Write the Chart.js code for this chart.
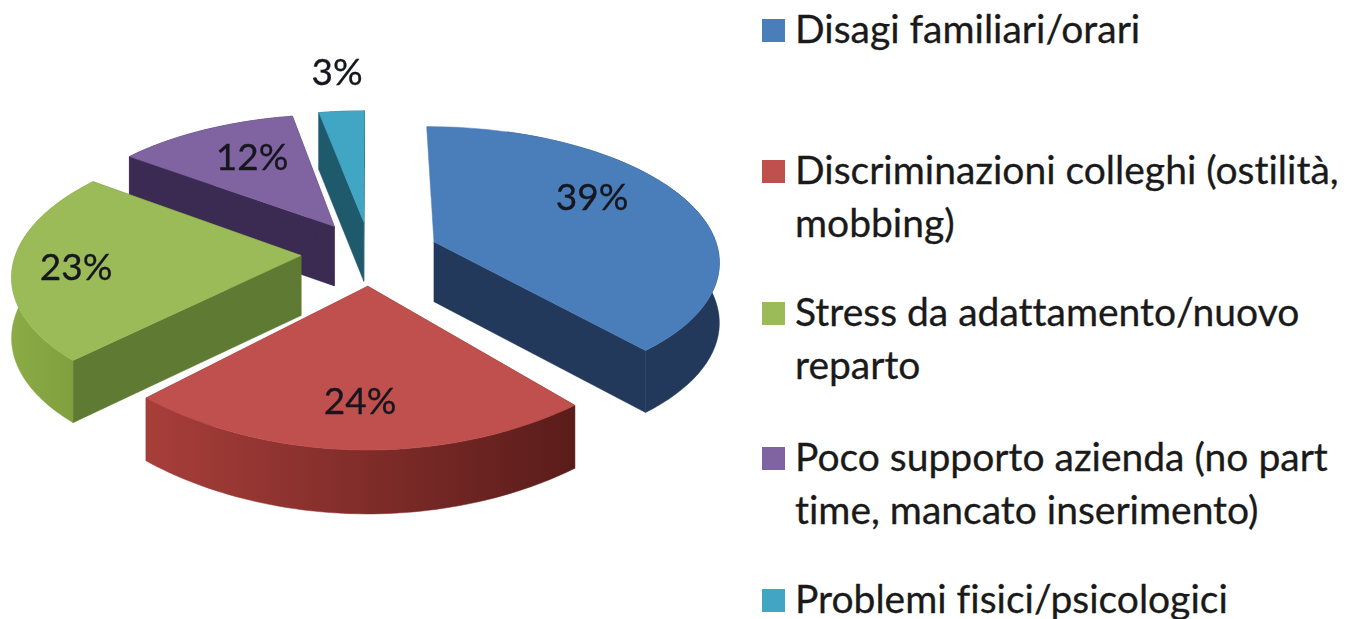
<!DOCTYPE html>
<html>
<head>
<meta charset="utf-8">
<script src="https://cdn.jsdelivr.net/npm/chart.js@4"></script>
<style>
  html, body { margin: 0; padding: 0; background: #fff; overflow: hidden; }
  #pie { position: absolute; left: 0; top: 0; }
  #legend { position: absolute; left: 762px; top: 2px; width: 586px; font: 39px/53px Lato, sans-serif; font-variant-ligatures: none; color: #1a1a1a; -webkit-text-stroke: 0.3px #1a1a1a; }
  .item { position: absolute; left: 0; width: 586px; padding-left: 33px; box-sizing: border-box; }
  .item i { position: absolute; left: 0; top: 17px; width: 23px; height: 23px; }
</style>
</head>
<body>
<canvas id="pie" width="740" height="619"></canvas>
<div id="legend"></div>
<script>
const categories = ["Disagi familiari/orari", "Discriminazioni colleghi (ostilità, mobbing)", "Stress da adattamento/nuovo reparto", "Poco supporto azienda (no part time, mancato inserimento)", "Problemi fisici/psicologici"];
const values = [39, 24, 23, 12, 3];
const topColors = ["#4a7ebb", "#c0504d", "#9bbb59", "#8064a2", "#41a5c4"];
const wallLeft = ["#22395c", "#a83e3a", "#8aab45", "#3b2a52", "#1f5a6c"];
const wallRight = ["#22395c", "#5a1c1a", "#7c9c3c", "#3b2a52", "#1f5a6c"];
const cutColors = ["#22395c", "#7a2a28", "#5f7a32", "#3b2a52", "#1f5a6c"];
// blue's left cut face is not visible in the picture
const showStartCut = [false, true, true, true, true];

// back to front
const drawOrder = [4, 3, 0, 2, 1];
const labelPos = [[592, 198], [360, 402], [76, 268], [252, 158], [337, 73]];
const legendTops = [0, 141, 283, 428, 570];

// fake 3d view of the pie plane
const PIE_R = 285;
const OFFSET = 69;
const DEPTH = 60;
const CENTER_Y = 253;
const FLAT = 133;
const PERSP = 0.13;

function project(arc, px, py) {
  const u = px / PIE_R;
  const v = py / PIE_R;
  const w = 1 - PERSP * v;
  const wx = 1 - PERSP * Math.min(v, 0.75); // front edge came out too wide
  return [arc.x + PIE_R * u / wx, CENTER_Y + FLAT * v / w];
}

function slicePoints(arc) {
  const mid = (arc.startAngle + arc.endAngle) / 2;
  const ox = OFFSET * Math.cos(mid);
  const oy = OFFSET * Math.sin(mid);
  const rim = [];
  const steps = 60;
  for (let i = 0; i <= steps; i++) {
    const t = arc.startAngle + (arc.endAngle - arc.startAngle) * i / steps;
    rim.push(project(arc, ox + arc.outerRadius * Math.cos(t), oy + arc.outerRadius * Math.sin(t)));
  }
  return { apex: project(arc, ox, oy), rim: rim };
}

function fillPoly(ctx, pts, fill) {
  ctx.beginPath();
  pts.forEach((p, i) => i ? ctx.lineTo(p[0], p[1]) : ctx.moveTo(p[0], p[1]));
  ctx.closePath();
  ctx.fillStyle = fill;
  ctx.fill();
  ctx.strokeStyle = fill;
  ctx.lineWidth = 0.5;
  ctx.stroke();
}

const down = (p) => [p[0], p[1] + DEPTH + (p[1] - CENTER_Y) * 0.02];

const pie3d = {
  id: "pie3d",
  beforeDatasetsDraw(chart) {
    const ctx = chart.ctx;
    const arcs = chart.getDatasetMeta(0).data;
    drawOrder.forEach((i) => {
      const s = slicePoints(arcs[i]);
      const first = s.rim[0];
      const last = s.rim[s.rim.length - 1];
      if (showStartCut[i]) fillPoly(ctx, [s.apex, first, down(first), down(s.apex)], cutColors[i]);
      fillPoly(ctx, [s.apex, last, down(last), down(s.apex)], cutColors[i]);
      const xs = s.rim.map((p) => p[0]);
      const grad = ctx.createLinearGradient(Math.min(...xs), 0, Math.max(...xs), 0);
      grad.addColorStop(0, wallLeft[i]);
      grad.addColorStop(1, wallRight[i]);
      const wallRim = showStartCut[i] ? s.rim : s.rim.slice(8);
      fillPoly(ctx, wallRim.concat(wallRim.map(down).reverse()), grad);
      fillPoly(ctx, [s.apex].concat(s.rim), topColors[i]);
    });
    ctx.save();
    ctx.font = "37px Lato, sans-serif";
    ctx.fillStyle = "#16161e";
    ctx.strokeStyle = "#16161e";
    ctx.lineWidth = 0.3;
    ctx.textAlign = "center";
    ctx.textBaseline = "middle";
    values.forEach((v, i) => {
      ctx.fillText(v + "%", labelPos[i][0], labelPos[i][1]);
      ctx.strokeText(v + "%", labelPos[i][0], labelPos[i][1]);
    });
    ctx.restore();
    return false;
  }
};

new Chart(document.getElementById("pie"), {
  type: "pie",
  data: {
    labels: categories,
    datasets: [{ data: values, backgroundColor: topColors, borderWidth: 0, offset: OFFSET, radius: PIE_R }]
  },
  options: {
    responsive: false,
    animation: false,
    plugins: { legend: { display: false }, tooltip: { enabled: false } }
  },
  plugins: [pie3d]
});

const legend = document.getElementById("legend");
categories.forEach((name, i) => {
  const item = document.createElement("div");
  item.className = "item";
  item.style.top = legendTops[i] + "px";
  item.innerHTML = `<i style="background:${topColors[i]}"></i>${name}`;
  legend.appendChild(item);
});
</script>
</body>
</html>
